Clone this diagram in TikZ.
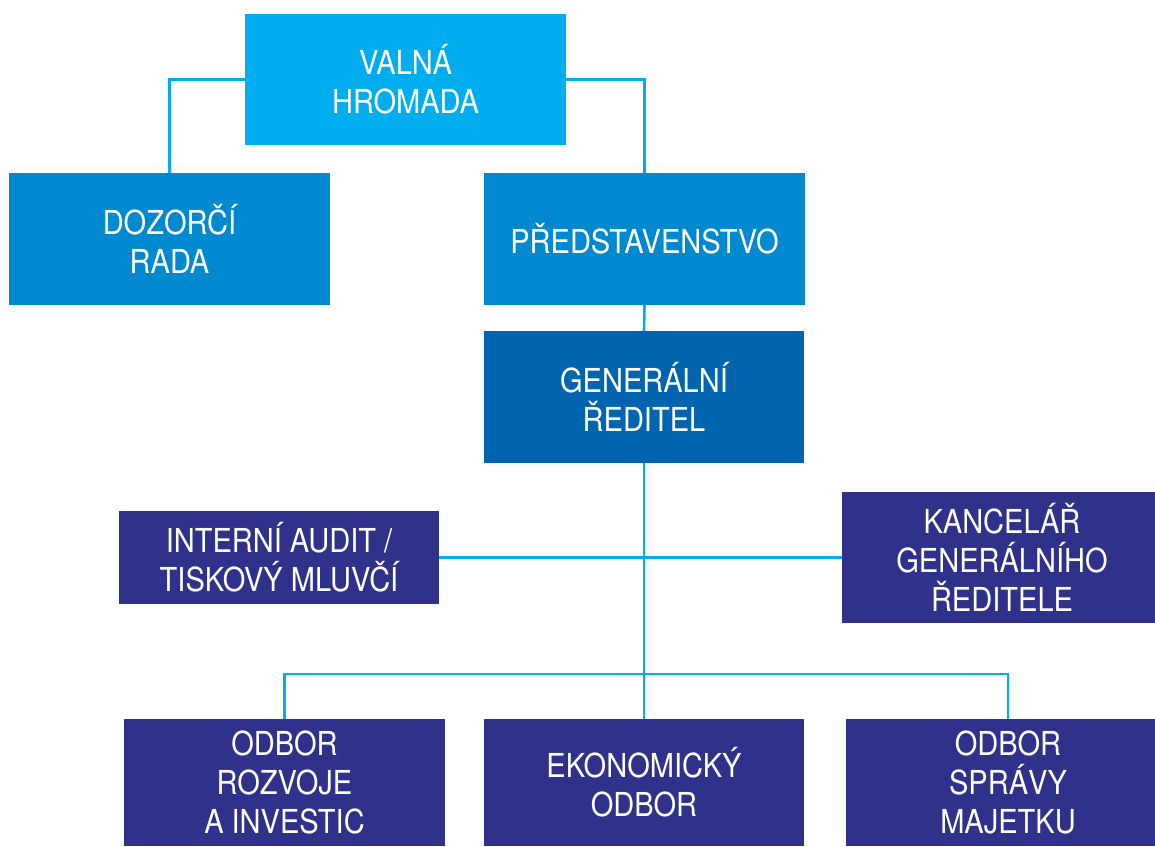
\documentclass[tikz,border=0pt]{standalone}
\usepackage{fontspec}
\setmainfont{TeX Gyre Heros}[FakeStretch=0.88]
\definecolor{cyanA}{HTML}{00AEEF}
\definecolor{blueB}{HTML}{0089CF}
\definecolor{blueC}{HTML}{0064AF}
\definecolor{navyD}{HTML}{30318B}
\begin{document}
\begin{tikzpicture}[x=1pt,y=-1pt,
  box/.style={draw=none, text=white, align=center, inner sep=0pt,
    font=\fontsize{33}{39}\selectfont, minimum width=321pt, minimum height=131pt},
  conn/.style={draw=cyanA, line width=2.6pt}]
\useasboundingbox (0,0) rectangle (1155,846);
\node[box, fill=cyanA] (valna) at (405.5,79.5) {VALNÁ\\HROMADA};
\node[box, fill=blueB, minimum height=132pt] (dozorci) at (169.5,239) {DOZORČÍ\\RADA};
\node[box, fill=blueB, minimum height=132pt] (predst) at (644.5,239) {PŘEDSTAVENSTVO};
\node[box, fill=blueC, minimum width=320pt, minimum height=132pt] (gen) at (644,397) {GENERÁLNÍ\\ŘEDITEL};
\node[box, fill=navyD, minimum width=320pt, minimum height=93pt] (interni) at (279,557.5) {INTERNÍ AUDIT /\\TISKOVÝ MLUVČÍ};
\node[box, fill=navyD, minimum width=320pt] (kanc) at (1002,557.5) {KANCELÁŘ\\GENERÁLNÍHO\\ŘEDITELE};
\node[box, fill=navyD, minimum height=127pt] (odbor1) at (284.5,782.5) {ODBOR\\ROZVOJE\\A INVESTIC};
\node[box, fill=navyD, minimum width=320pt, minimum height=127pt] (eko) at (644,782.5) {EKONOMICKÝ\\ODBOR};
\node[box, fill=navyD, minimum width=324pt, minimum height=127pt] (odbor3) at (1008,782.5) {ODBOR\\SPRÁVY\\MAJETKU};
\coordinate (bus) at (644,674);
\draw[conn] (valna.west) -| (dozorci.north);
\draw[conn] (valna.east) -| (predst.north);
\draw[conn] (predst.south) -- (gen.north);
\draw[conn] (gen.south) -- (eko.north);
\draw[conn] (interni.east) -- (kanc.west);
\draw[conn] (odbor1.north) |- (bus) -| (odbor3.north);
\end{tikzpicture}
\end{document}
